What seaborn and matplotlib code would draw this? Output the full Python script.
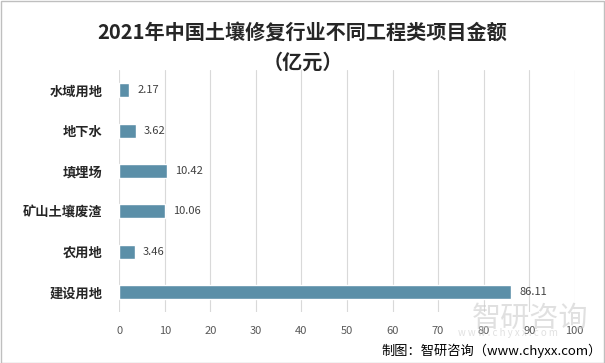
import matplotlib
matplotlib.use("Agg")
import matplotlib.pyplot as plt
import seaborn as sns
import pandas as pd

categories = ["水域用地", "地下水", "填埋场", "矿山土壤废渣", "农用地", "建设用地"]
values = [2.17, 3.62, 10.42, 10.06, 3.46, 86.11]
ticks = list(range(0, 101, 10))

sns.set_style("white")
plt.rcParams["font.family"] = ["Noto Sans CJK SC", "DejaVu Sans"]

df = pd.DataFrame({"类别": categories, "金额": values})

fig = plt.figure(figsize=(6.05, 3.63), dpi=100)
ax = fig.add_axes([0.197, 0.14, 0.753, 0.667])

sns.barplot(data=df, x="金额", y="类别", color="#5b8fa8", width=0.35,
            saturation=1, ax=ax, zorder=3)

# 数值标签
for i, v in enumerate(values):
    ax.text(v + 1.8, i, f"{v:.2f}", va="center", ha="left", fontsize=8, color="#404040",
            zorder=4)

ax.set_xlim(0, 100)
ax.set_ylim(5.5, -0.5)
ax.set_xticks(ticks)
ax.tick_params(axis="x", length=0, labelsize=8, labelcolor="#595959", pad=10)
ax.tick_params(axis="y", length=0, pad=12)
for lab in ax.get_yticklabels():
    lab.set_fontweight("bold")
    lab.set_fontsize(9.5)
    lab.set_color("#262626")
ax.grid(axis="x", color="#d9d9d9", linewidth=0.8, zorder=0)
ax.set_xlabel("")
ax.set_ylabel("")
for s in ax.spines.values():
    s.set_visible(False)

fig.text(0.5, 0.91, "2021年中国土壤修复行业不同工程类项目金额", ha="center", va="center",
         fontsize=14.5, fontweight="bold", color="#262626")
fig.text(0.5, 0.828, "（亿元）", ha="center", va="center",
         fontsize=14.5, fontweight="bold", color="#262626")

# 水印
fig.text(0.876, 0.122, "智研咨询", ha="center", va="center", fontsize=21,
         color="#c8c8c8", alpha=0.55, zorder=0)
fig.text(0.84, 0.082, "w w w . c h y x x . c o m", ha="center", va="center",
         fontsize=7, color="#c8c8c8", alpha=0.55)

fig.text(0.995, 0.033, "制图：智研咨询（www.chyxx.com）", ha="right", va="center",
         fontsize=9.5, color="#000000")

# 外边框
fig.patches.append(plt.Rectangle((0.001, 0.001), 0.997, 0.997, transform=fig.transFigure,
                                 fill=False, edgecolor="#bfbfbf", linewidth=1))

fig.savefig("out.png", dpi=100)
